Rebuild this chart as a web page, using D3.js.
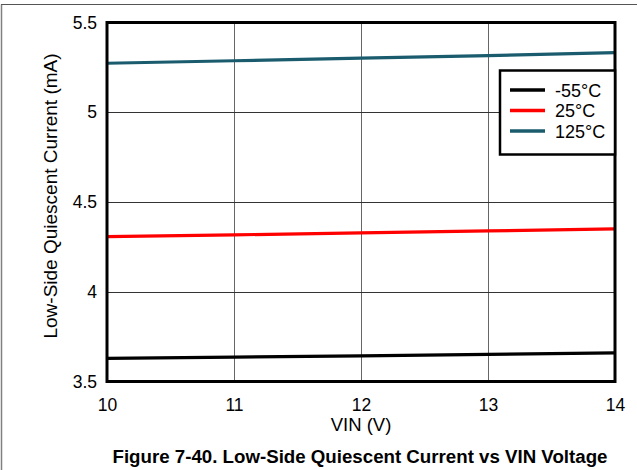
<!DOCTYPE html>
<html>
<head>
<meta charset="utf-8">
<script src="https://cdn.jsdelivr.net/npm/d3@7"></script>
<style>
html,body{margin:0;padding:0;background:#fff;}
svg{display:block;font-family:"Liberation Sans",Arial,sans-serif;}
</style>
</head>
<body>
<svg id="chart" width="637" height="470"></svg>
<script>
const vin = [10, 11, 12, 13, 14];
const seriesNames = ["-55°C", "25°C", "125°C"];
const seriesColors = ["#000000", "#ff0000", "#1a5c6e"];
const iqM55 = [3.629, 3.636, 3.643, 3.651, 3.659];
const iq25 = [4.307, 4.317, 4.328, 4.339, 4.350];
const iq125 = [5.273, 5.287, 5.301, 5.316, 5.332];
const xTicks = [10, 11, 12, 13, 14];
const yTicks = [3.5, 4, 4.5, 5, 5.5];
const yTickLabels = ["3.5", "4", "4.5", "5", "5.5"];

const allSeries = [iqM55, iq25, iq125];

const svg = d3.select("#chart");
const L = 107, R = 615, T = 22.5, B = 381.5;
const FONT = "Liberation Sans, Arial, sans-serif";

// outer frame (left and top)
svg.append("line").attr("x1",1.5).attr("x2",1.5).attr("y1",4.5).attr("y2",470).attr("stroke","#808080").attr("stroke-width",1.5);
svg.append("line").attr("x1",1).attr("x2",637).attr("y1",4.5).attr("y2",4.5).attr("stroke","#555").attr("stroke-width",1.2);

const x = d3.scaleLinear().domain([10,14]).range([L,R]);
const y = d3.scaleLinear().domain([3.5,5.5]).range([B,T]);

// grid
svg.append("g").selectAll("line").data(xTicks.slice(1,-1)).join("line")
  .attr("x1",d=>Math.round(x(d))+0.5).attr("x2",d=>Math.round(x(d))+0.5)
  .attr("y1",T).attr("y2",B).attr("stroke","#666").attr("stroke-width",1);
svg.append("g").selectAll("line").data(yTicks.slice(1,-1)).join("line")
  .attr("x1",L).attr("x2",R)
  .attr("y1",d=>Math.round(y(d))+0.5).attr("y2",d=>Math.round(y(d))+0.5)
  .attr("stroke","#333").attr("stroke-width",1);

// axes (labels only)
const xAxis = d3.axisBottom(x).tickValues(xTicks).tickSize(0).tickPadding(17).tickFormat(d3.format("d"));
const gx = svg.append("g").attr("transform",`translate(0,${B})`).call(xAxis);
gx.select(".domain").remove();
gx.attr("font-size",17.5).attr("font-family",FONT);
gx.selectAll("text").attr("fill","#000");

const yAxis = d3.axisLeft(y).tickValues(yTicks).tickSize(0).tickPadding(10).tickFormat((d,i)=>yTickLabels[i]);
const gy = svg.append("g").attr("transform",`translate(${L},0)`).call(yAxis);
gy.select(".domain").remove();
gy.attr("font-size",17.5).attr("font-family",FONT);
gy.selectAll("text").attr("fill","#000");

// lines
const line = d3.line().x((d,i)=>x(vin[i])).y(d=>y(d));
svg.append("g").selectAll("path").data(allSeries).join("path")
  .attr("d",d=>line(d)).attr("fill","none")
  .attr("stroke",(d,i)=>seriesColors[i]).attr("stroke-width",3.2);

// plot frame
svg.append("rect").attr("x",L).attr("y",T).attr("width",R-L).attr("height",B-T)
  .attr("fill","none").attr("stroke","#000").attr("stroke-width",3);

// legend
const lg = svg.append("g");
lg.append("rect").attr("x",500).attr("y",70.5).attr("width",R-500).attr("height",84)
  .attr("fill","#fff").attr("stroke","#000").attr("stroke-width",2.5);
seriesNames.forEach((n,i)=>{
  const yy = 90 + i*20.5;
  lg.append("line").attr("x1",510).attr("x2",545).attr("y1",yy).attr("y2",yy)
    .attr("stroke",seriesColors[i]).attr("stroke-width",3.5);
  lg.append("text").attr("x",555).attr("y",yy+6.5).attr("font-size",18).attr("fill","#000").text(n);
});

// axis titles
svg.append("text").attr("x",(L+R)/2).attr("y",431).attr("text-anchor","middle")
  .attr("font-size",18.5).attr("fill","#000").text("VIN (V)");
svg.append("text").attr("transform","translate(57,196) rotate(-90)").attr("text-anchor","middle")
  .attr("font-size",19).attr("fill","#000").text("Low-Side Quiescent Current (mA)");

// caption
svg.append("text").attr("x",360).attr("y",463).attr("text-anchor","middle")
  .attr("font-size",18.7).attr("font-weight","bold").attr("fill","#000")
  .text("Figure 7-40. Low-Side Quiescent Current vs VIN Voltage");
</script>
</body>
</html>
